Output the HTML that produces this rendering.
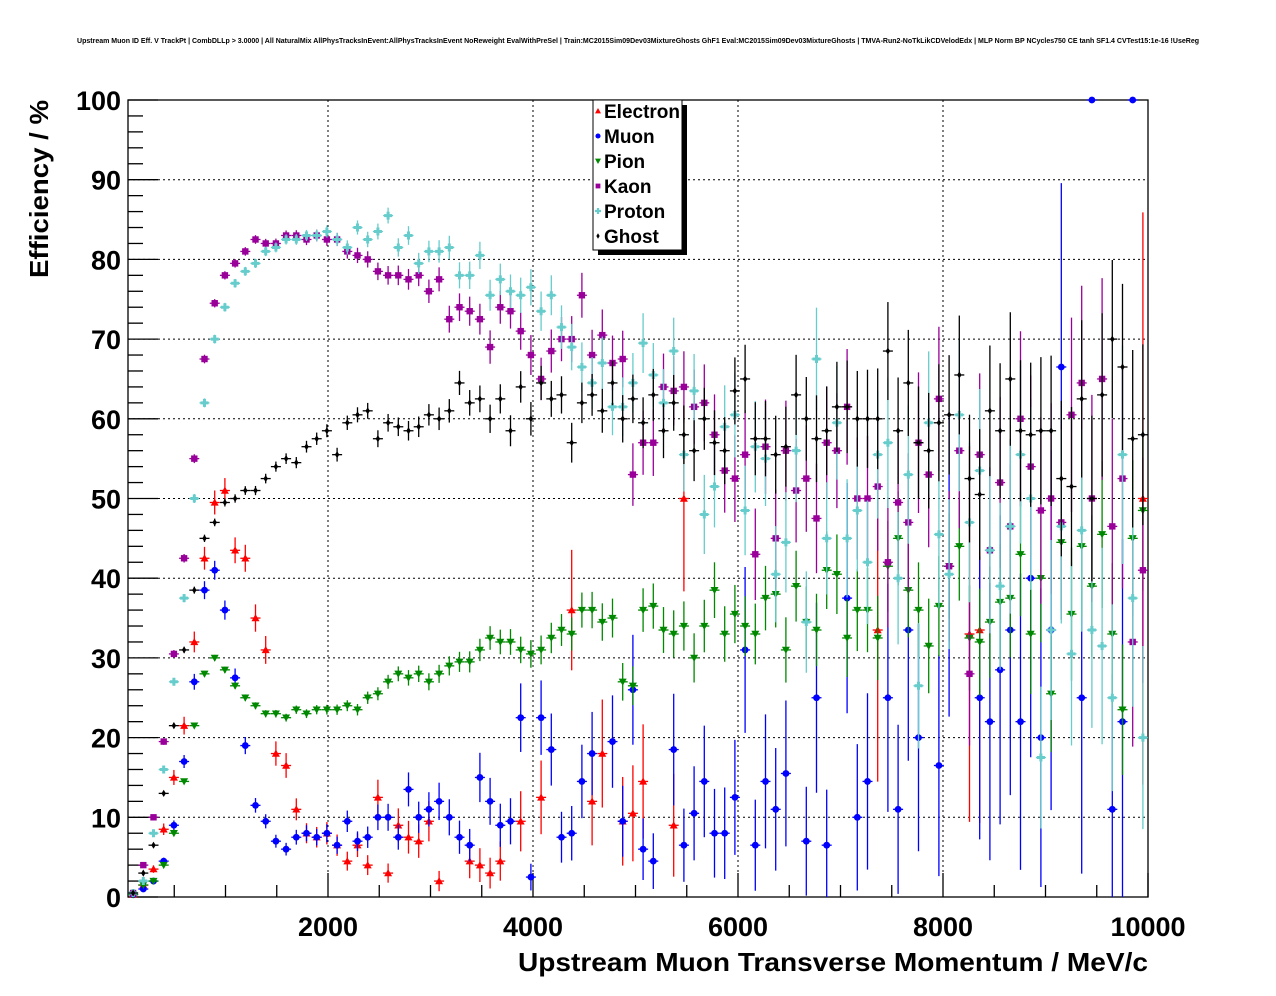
<!DOCTYPE html>
<html><head><meta charset="utf-8"><style>
body{margin:0;background:#fff;}
svg{display:block;font-family:"Liberation Sans",Arial,sans-serif;}
</style></head><body>
<svg id="c" width="1276" height="996">
<rect width="1276" height="996" fill="#fff"/>
<text x="638" y="43" font-size="7" font-weight="bold" text-anchor="middle" textLength="1122" lengthAdjust="spacingAndGlyphs">Upstream Muon ID Eff. V TrackPt | CombDLLp &gt; 3.0000 | All NaturalMix AllPhysTracksInEvent:AllPhysTracksInEvent NoReweight EvalWithPreSel | Train:MC2015Sim09Dev03MixtureGhosts GhF1 Eval:MC2015Sim09Dev03MixtureGhosts | TMVA-Run2-NoTkLikCDVelodEdx | MLP Norm BP NCycles750 CE tanh SF1.4 CVTest15:1e-16 !UseReg</text>
<g id="grid"></g><g id="axes"></g><g id="marks"></g><g id="legend"></g>
<text x="518" y="971" font-size="26" font-weight="bold" textLength="630" lengthAdjust="spacingAndGlyphs">Upstream Muon Transverse Momentum / MeV/c</text>
<text transform="translate(48,278) rotate(-90)" font-size="26" font-weight="bold" textLength="178" lengthAdjust="spacingAndGlyphs">Efficiency / %</text>
</svg>
<script>
const xTicks=[2000,4000,6000,8000,10000];
const yTicks=[0,10,20,30,40,50,60,70,80,90,100];
const seriesNames=["Electron","Muon","Pion","Kaon","Proton","Ghost"];
const N=null;
const electron=[0.3,1.5,3.5,8.5,15,21.5,32,42.5,49.5,51,43.5,42.5,35,31,18,16.5,11,8,7.5,8,6.5,4.5,6.5,4,12.5,3,9,7.5,7,9.5,2,N,N,4.5,4,3,4.5,N,9.5,N,12.5,N,N,36,N,12,18,N,9.5,10.5,14.5,N,N,9,50,N,N,N,N,N,N,N,N,N,N,N,N,N,N,N,N,N,N,33.5,N,N,N,N,N,N,N,N,33,33.5,N,N,N,N,N,N,N,N,N,N,N,N,N,N,N,50];
const muon=[0.3,1,2,4.5,9,17,27,38.5,41,36,27.5,19,11.5,9.5,7,6,7.5,8,7.5,8,6.5,9.5,7,7.5,10,10,7.5,13.5,10,11,12,10,7.5,6.5,15,12,9,9.5,22.5,2.5,22.5,18.5,7.5,8,14.5,18,N,19.5,9.5,26,6,4.5,N,18.5,6.5,10.5,14.5,8,8,12.5,31,6.5,14.5,11,15.5,N,7,25,6.5,N,37.5,10,14.5,N,25,11,33.5,20,N,16.5,41.5,N,N,25,22,28.5,33.5,22,40,20,33.5,66.5,N,25,100,N,11,22,100,N];
const pion=[0.3,1.5,2,4,8,14.5,21.5,28,30,28.5,26.5,25,24,23,23,22.5,23.5,23,23.5,23.5,23.5,24,23.5,25,25.5,27,28,27.5,28,27,28,29,29.5,29.5,31,32.5,32,32,31,30.5,31,32.5,33.5,33,36,36,34.5,35,27,26.5,36,36.5,33.5,33,34,30,34,38.5,33,35.5,34,33,37.5,38,31,39,34.5,33.5,41,40.5,32.5,36,36,32.5,41.5,45,38.5,36,31.5,36.5,41.5,44,32.5,32,34.5,37,37.5,43,33,40,25.5,44.5,35.5,44,39,45.5,33,23.5,45,48.5];
const kaon=[0.5,4,10,19.5,30.5,42.5,55,67.5,74.5,78,79.5,81,82.5,82,82,83,83,82.5,83,82.5,82.5,81,80.5,80,78.5,78,78,77.5,78,76,77.5,72.5,74,73.5,72.5,69,74,73.5,71,68,65,68.5,70,70,75.5,68,70.5,67,67.5,53,57,57,64,63.5,64,61.5,62,58,53.5,52.5,55.5,43,56.5,45,56,51,52.5,47.5,57,56,61.5,50,50,51.5,42,49.5,47,57,53,62.5,41.5,56,28,55.5,43.5,52,46.5,60,54,48.5,50,47,60.5,64.5,50,65,46.5,52.5,32,41];
const proton=[0.5,2,8,16,27,37.5,50,62,70,74,77,78.5,79.5,81,81.5,82.5,82.5,83,83,83.5,82.5,81.5,84,82.5,83.5,85.5,81.5,83,79.5,81,81,81.5,78,78,80.5,75.5,77.5,76,75.5,76.5,73.5,75.5,71.5,69,66.5,64.5,67,61.5,61.5,64.5,69.5,65.5,62,68.5,55.5,63.5,48,51.5,59,60.5,48.5,56.5,55,40.5,44.5,56,34.5,67.5,45,59.5,45,48.5,42,55.5,57,40,53,26.5,59.5,45.5,40.5,60.5,47,53.5,43.5,39,46.5,55.5,50,17.5,33.5,46.5,30.5,46,33.5,31.5,25,55.5,37.5,20];
const ghost=[0.5,3,6.5,13,21.5,31,38.5,45,47,49.5,50,51,51,52.5,54,55,54.5,56.5,57.5,58.5,55.5,59.5,60.5,61,57.5,59.5,59,58.5,59,60.5,60,61,64.5,62,62.5,60,62.5,58.5,64,60,64.5,62.5,63,57,62,63,61,64.5,60,62.5,59.5,63,58.5,62,58,56,60,57,56,63.5,65,57.5,57.5,55.5,56.5,63,60,57.5,58.5,61.5,61.5,60,60,60,68.5,58.5,64.5,57,56,59.5,60.5,65.5,52.5,50.5,61,58.5,65,58.5,58,58.5,58.5,52.5,51.5,62.5,50,63,70,66.5,57.5,58];

const NS="http://www.w3.org/2000/svg";
const L=128,R=1148,T=100,B=897;
const xs=v=>123+0.1025*v;
const xb=v=>128+0.102*v;
const ys=v=>B-(v/100)*(B-T);
function mk(tag,attrs,parent){const e=document.createElementNS(NS,tag);for(const k in attrs)e.setAttribute(k,attrs[k]);parent.appendChild(e);return e;}
const grid=document.getElementById('grid'),axes=document.getElementById('axes'),marks=document.getElementById('marks'),leg=document.getElementById('legend');

xTicks.forEach(t=>{if(t<10000){const g=mk('line',{x1:xs(t),x2:xs(t),y1:T,y2:B,stroke:'#000','stroke-width':1,'stroke-dasharray':'2,3'},grid);

}});
yTicks.forEach(t=>{if(t>0&&t<100){const g=mk('line',{x1:L,x2:R,y1:ys(t),y2:ys(t),stroke:'#000','stroke-width':1,'stroke-dasharray':'2,3'},grid);

}});
const fr=mk('rect',{x:L,y:T,width:R-L,height:B-T,fill:'none',stroke:'#000','stroke-width':1.3},axes);


for(let v=500;v<=10000;v+=500){const maj=v%2000===0;mk('line',{x1:xs(v),x2:xs(v),y1:B,y2:B-(maj?24:12),stroke:'#000','stroke-width':1.3},axes);}
for(let v=0;v<=100;v+=2){const maj=v%10===0;mk('line',{x1:L,x2:L+(maj?30:15),y1:ys(v),y2:ys(v),stroke:'#000','stroke-width':1.3},axes);}
xTicks.forEach(t=>{const e=mk('text',{x:xs(t),y:936,'font-size':27,'font-weight':'bold','text-anchor':'middle'},axes);e.textContent=t;

});
yTicks.forEach(t=>{const e=mk('text',{x:121,y:ys(t)+10,'font-size':27,'font-weight':'bold','text-anchor':'end'},axes);e.textContent=t;

});

const series=[[electron,'#ff0000','tri',2.5],[muon,'#0000ff','circ',2],[pion,'#008800','tdown',0.7],[kaon,'#990099','sq',1],[proton,'#66cccc','plus',1],[ghost,'#000000','diam',0.8]];
function marker(type,cx,cy,col,par,s){
  if(type==='tri')return mk('polygon',{points:`${cx},${cy-s} ${cx-s},${cy+s*0.8} ${cx+s},${cy+s*0.8}`,fill:col},par);
  if(type==='tdown')return mk('polygon',{points:`${cx},${cy+s} ${cx-s},${cy-s*0.8} ${cx+s},${cy-s*0.8}`,fill:col},par);
  if(type==='circ')return mk('circle',{cx:cx,cy:cy,r:s*0.85,fill:col},par);
  if(type==='sq')return mk('rect',{x:cx-s*0.8,y:cy-s*0.8,width:s*1.6,height:s*1.6,fill:col},par);
  if(type==='plus')return mk('path',{d:`M${cx-s} ${cy}H${cx+s}M${cx} ${cy-s}V${cy+s}`,stroke:col,'stroke-width':s*0.75},par);
  return mk('polygon',{points:`${cx},${cy-s*0.9} ${cx-s*0.55},${cy} ${cx},${cy+s*0.9} ${cx+s*0.55},${cy}`,fill:col},par);
}
series.forEach((s,si)=>{
  const [arr,col,type,f]=s;
  const g=mk('g',{},marks);
  
  
  arr.forEach((v,i)=>{
    if(v===null)return;
    const x=100*i+50;const p=Math.min(Math.max(v/100,0),1);
    const kx=0.5+14*Math.pow(x/10000,2);
    const err=v>=100?0:f*kx*2*Math.sqrt(Math.max(p*(1-p),0.02));
    const cx=xb(x),cy=ys(v);
    const pg=mk('g',{},g);
    
    
    mk('line',{x1:cx-5,x2:Math.min(cx+5,R),y1:cy,y2:cy,stroke:col,'stroke-width':1.3},pg);
    if(err>0)mk('line',{x1:cx,x2:cx,y1:ys(Math.min(v+err,100)),y2:ys(Math.max(v-err,0)),stroke:col,'stroke-width':1.3},pg);
    marker(type,cx,cy,col,pg,4);
  });
});
const sh=mk('rect',{x:598,y:105,width:89,height:150,fill:'#000'},leg);


const lb=mk('rect',{x:593,y:100,width:89,height:150,fill:'#fff',stroke:'#000','stroke-width':1},leg);


series.forEach((s,si)=>{
  const y=111+si*25;
  const g=mk('g',{},leg);
  
  
  marker(s[2],598,y,s[1],g,3);
  const t=mk('text',{x:604,y:y+7,'font-size':19,'font-weight':'bold'},g);t.textContent=seriesNames[si];
});
</script>
</body></html>
